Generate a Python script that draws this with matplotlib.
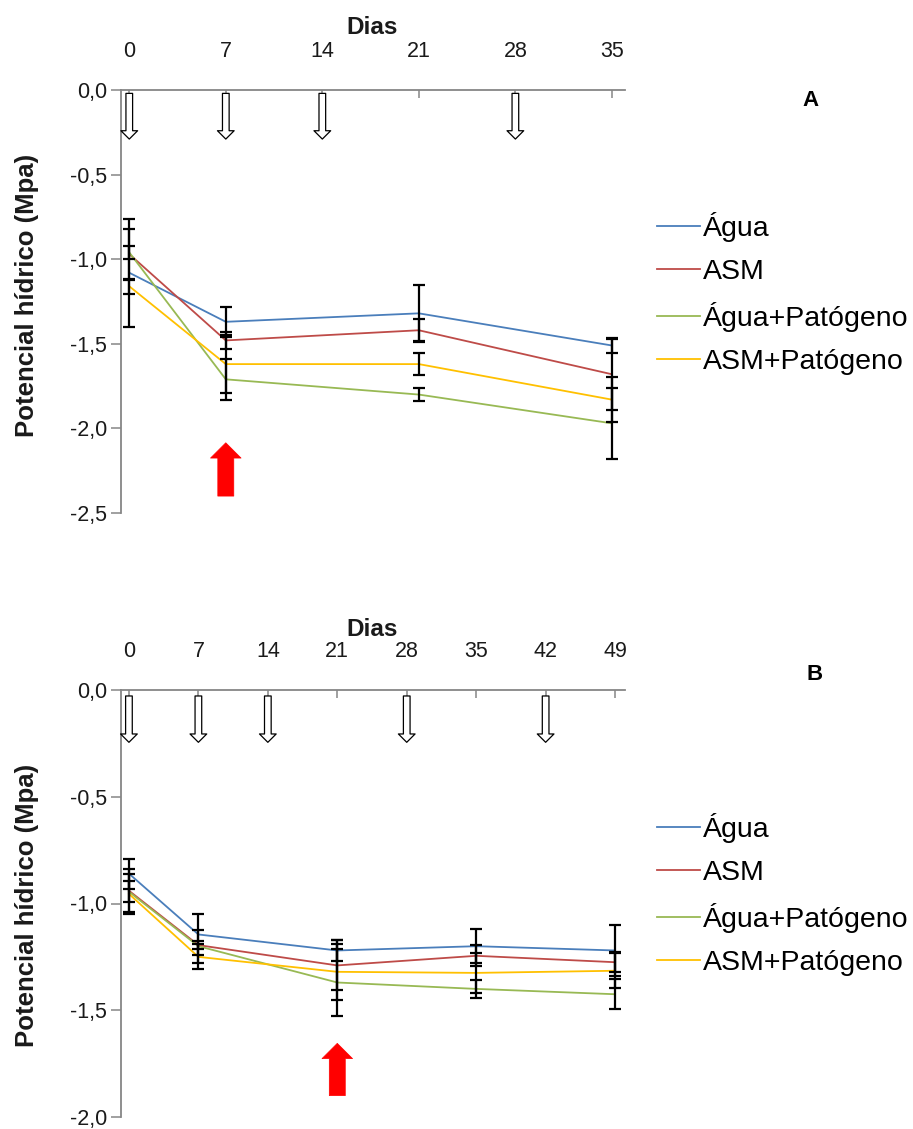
import matplotlib
matplotlib.use("Agg")
import matplotlib.pyplot as plt
from matplotlib.patches import ArrowStyle

plt.rcParams['font.family'] = ['Liberation Sans', 'DejaVu Sans']

# ---------------- data ----------------
series_names = ["Água", "ASM", "Água+Patógeno", "ASM+Patógeno"]
series_colors = ["#4A7EBB", "#BE4B48", "#98B954", "#FFC000"]

# Panel A
days_A = [0, 7, 21, 35]
agua_A = [-1.08, -1.37, -1.32, -1.51]
asm_A = [-0.97, -1.48, -1.42, -1.68]
aguapat_A = [-0.96, -1.71, -1.80, -1.97]
asmpat_A = [-1.16, -1.62, -1.62, -1.83]
agua_A_err = [0.32, 0.09, 0.17, 0.045]
asm_A_err = [0.15, 0.05, 0.065, 0.21]
aguapat_A_err = [0.04, 0.12, 0.04, 0.21]
asmpat_A_err = [0.045, 0.17, 0.065, 0.135]
xticks_A = [0, 7, 14, 21, 28, 35]
yticks_A = [0.0, -0.5, -1.0, -1.5, -2.0, -2.5]
yticklabels_A = ["0,0", "-0,5", "-1,0", "-1,5", "-2,0", "-2,5"]
white_arrow_days_A = [0, 7, 14, 28]
red_arrow_day_A = 7

# Panel B
days_B = [0, 7, 21, 35, 49]
agua_B = [-0.86, -1.145, -1.22, -1.20, -1.22]
asm_B = [-0.94, -1.195, -1.29, -1.245, -1.275]
aguapat_B = [-0.945, -1.20, -1.37, -1.40, -1.425]
asmpat_B = [-0.955, -1.25, -1.32, -1.325, -1.315]
agua_B_err = [0.07, 0.094, 0.047, 0.08, 0.12]
asm_B_err = [0.10, 0.02, 0.117, 0.05, 0.047]
aguapat_B_err = [0.05, 0.078, 0.155, 0.042, 0.07]
asmpat_B_err = [0.094, 0.058, 0.13, 0.095, 0.081]
xticks_B = [0, 7, 14, 21, 28, 35, 42, 49]
yticks_B = [0.0, -0.5, -1.0, -1.5, -2.0]
yticklabels_B = ["0,0", "-0,5", "-1,0", "-1,5", "-2,0"]
white_arrow_days_B = [0, 7, 14, 28, 42]
red_arrow_day_B = 21

W, H = 913, 1129
fig = plt.figure(figsize=(W / 100, H / 100), dpi=100)

SPINE = "#868686"
TXT = "#1a1a1a"


def fx(px):
    return px / W


def fy(py):
    return 1 - py / H


def setup_axes(ax, xticks, xlim, yticks, yticklabels, ylim):
    ax.set_xlim(*xlim)
    ax.set_ylim(*ylim)
    for s in ["right", "bottom"]:
        ax.spines[s].set_visible(False)
    for s in ["left", "top"]:
        ax.spines[s].set_color(SPINE)
        ax.spines[s].set_linewidth(1.3)
    ax.xaxis.tick_top()
    ax.set_xticks(xticks)
    ax.set_xticklabels([str(t) for t in xticks])
    ax.tick_params(axis="x", direction="in", length=6, width=1.1, color=SPINE,
                   pad=20, labelsize=15.5, labelcolor=TXT)
    ax.set_yticks(yticks)
    ax.set_yticklabels(yticklabels)
    ax.tick_params(axis="y", direction="out", length=7, width=1.1, color=SPINE,
                   pad=3, labelsize=15.5, labelcolor=TXT)


def draw_series(ax, days, vals, errs):
    handles = []
    for v, c, n in zip(vals, series_colors, series_names):
        h, = ax.plot(days, v, color=c, lw=1.3, label=n, zorder=3)
        handles.append(h)
    for v, e in zip(vals, errs):
        ax.errorbar(days, v, yerr=e, fmt="none", ecolor="black", elinewidth=1.6,
                    capsize=4.5, capthick=1.6, zorder=4)
    return handles


def white_arrow(ax, day, y_top, y_tip):
    ax.annotate("", xy=(day, y_tip), xytext=(day, y_top),
                arrowprops=dict(arrowstyle=ArrowStyle.Simple(head_length=6, head_width=12, tail_width=4.8),
                                fc="white", ec="black", lw=0.9, mutation_scale=1,
                                shrinkA=0, shrinkB=0), zorder=5, annotation_clip=False)


def red_arrow(ax, day, y_bottom, y_tip):
    ax.annotate("", xy=(day, y_tip), xytext=(day, y_bottom),
                arrowprops=dict(arrowstyle=ArrowStyle.Simple(head_length=11, head_width=22, tail_width=11.5),
                                fc="#FF0000", ec="#FF0000", lw=0.5, mutation_scale=1,
                                shrinkA=0, shrinkB=0), zorder=5)


LEG_KW = dict(frameon=False, fontsize=20.5, handlelength=1.5, handletextpad=0.12,
              labelspacing=0.6, borderaxespad=0, borderpad=0)

# ---------------- panel A ----------------
axA = fig.add_axes([fx(121), fy(513), fx(625) - fx(121), fy(90) - fy(513)])
setup_axes(axA, xticks_A, (-0.6, 35.95), yticks_A, yticklabels_A, (-2.5, 0.0))
hA = draw_series(axA, days_A, [agua_A, asm_A, aguapat_A, asmpat_A],
                 [agua_A_err, asm_A_err, aguapat_A_err, asmpat_A_err])
for d in white_arrow_days_A:
    white_arrow(axA, d, -0.02, -0.29)
red_arrow(axA, red_arrow_day_A, -2.40, -2.085)
axA.legend(handles=hA, loc="upper left", bbox_to_anchor=(fx(657), fy(212)),
           bbox_transform=fig.transFigure, **LEG_KW)

# ---------------- panel B ----------------
axB = fig.add_axes([fx(121), fy(1117), fx(625) - fx(121), fy(690) - fy(1117)])
setup_axes(axB, xticks_B, (-0.8, 50.0), yticks_B, yticklabels_B, (-2.0, 0.0))
hB = draw_series(axB, days_B, [agua_B, asm_B, aguapat_B, asmpat_B],
                 [agua_B_err, asm_B_err, aguapat_B_err, asmpat_B_err])
for d in white_arrow_days_B:
    white_arrow(axB, d, -0.028, -0.245)
red_arrow(axB, red_arrow_day_B, -1.90, -1.655)
axB.legend(handles=hB, loc="upper left", bbox_to_anchor=(fx(657), fy(813)),
           bbox_transform=fig.transFigure, **LEG_KW)

# ---------------- texts ----------------
for ycen_dias, ycen_lab, letter, yletter, xletter in [(27, 295, "A", 100, 810), (630, 905, "B", 675, 815)]:
    fig.text(fx(372), fy(ycen_dias), "Dias", ha="center", va="center",
             fontsize=17.5, fontweight="bold", color=TXT)
    fig.text(fx(27), fy(ycen_lab), "Potencial hídrico (Mpa)", ha="center", va="center",
             rotation=90, fontsize=18.5, fontweight="bold", color=TXT)
    fig.text(fx(xletter), fy(yletter), letter, ha="center", va="center",
             fontsize=16, fontweight="bold", color="black")

fig.savefig("out.png", dpi=100)
